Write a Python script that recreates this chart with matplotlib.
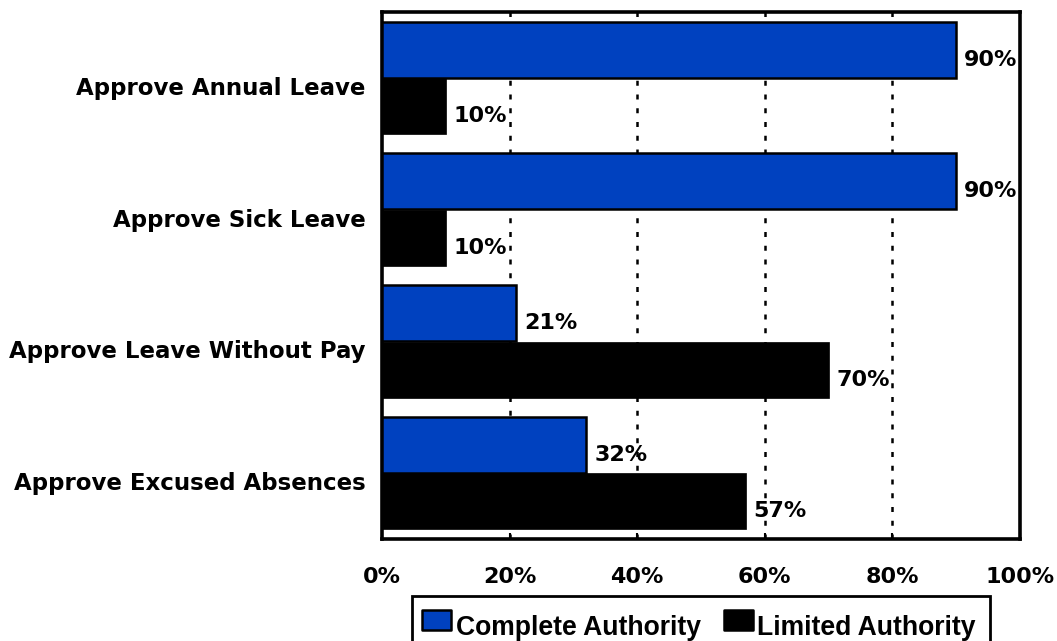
import matplotlib
matplotlib.use("Agg")
import matplotlib.pyplot as plt
import numpy as np
from matplotlib.transforms import ScaledTranslation
from matplotlib.patches import Rectangle
from matplotlib.legend_handler import HandlerPatch

categories = ["Approve Annual Leave", "Approve Sick Leave",
              "Approve Leave Without Pay", "Approve Excused Absences"]
complete_authority = [90, 90, 21, 32]
limited_authority = [10, 10, 70, 57]
series_names = ["Complete Authority", "Limited Authority"]
x_ticks = [0, 20, 40, 60, 80, 100]
x_tick_labels = ["0%", "20%", "40%", "60%", "80%", "100%"]

BLUE = "#0041BF"
BLACK = "#000000"
LABEL_FONT = dict(family="DejaVu Sans", weight="bold")
W, H = 1057, 641

fig = plt.figure(figsize=(W / 100, H / 100), dpi=100)
ax = fig.add_axes([382 / W, 1 - 539 / H, (1020 - 382) / W, (539 - 12) / H])

y = np.arange(len(categories))
h = 0.425
off = 0.215
bars_c = ax.barh(y - off, complete_authority, height=h, color=BLUE,
                 edgecolor=BLACK, linewidth=1.8, zorder=3, label=series_names[0])
bars_l = ax.barh(y + off, limited_authority, height=h, color=BLACK,
                 edgecolor=BLACK, linewidth=0.5, zorder=3, label=series_names[1])

for bars, vals in ((bars_c, complete_authority), (bars_l, limited_authority)):
    for b, v in zip(bars, vals):
        ax.annotate(f"{v}%", xy=(v, b.get_y() + b.get_height() / 2),
                    xytext=(8, -10), textcoords="offset pixels",
                    ha="left", va="center", fontsize=16, zorder=4,
                    annotation_clip=False, **LABEL_FONT)

ax.set_xlim(0, 100)
ax.set_ylim(len(categories) - 0.5, -0.5)

ax.set_xticks(x_ticks)
ax.set_xticklabels(x_tick_labels, fontsize=16, **LABEL_FONT)
ax.set_yticks(y)
ax.set_yticklabels(categories, fontsize=16.5, **LABEL_FONT)
ax.tick_params(axis="x", direction="in", length=4, width=1.5, pad=20.5)
ax.tick_params(axis="y", length=0, pad=12)
shift = ScaledTranslation(0, -0.08, fig.dpi_scale_trans)
for lab in ax.get_yticklabels():
    lab.set_transform(lab.get_transform() + shift)

for xv in x_ticks[1:-1]:
    ax.axvline(xv, color=BLACK, linewidth=1.8, linestyle=(0, (2, 3.5)), zorder=1)

for s in ax.spines.values():
    s.set_linewidth(2.6)
    s.set_color(BLACK)


def raised_box(legend, orig_handle, xdescent, ydescent, width, height, fontsize):
    # legend swatch sits a little above the text centre line
    return Rectangle((-xdescent, -ydescent + 4), width, height)


def swatch_style(legend_handle, orig_handle):
    legend_handle.set_facecolor(orig_handle.get_facecolor())
    legend_handle.set_edgecolor(BLACK)
    legend_handle.set_linewidth(1.8)
    legend_handle.set_joinstyle("round")


handler = HandlerPatch(patch_func=raised_box)
leg = fig.legend(handles=[bars_c.patches[0], bars_l.patches[0]], labels=series_names,
                 loc="center", bbox_to_anchor=(699 / W, 1 - 628 / H),
                 bbox_transform=fig.transFigure, ncol=2, frameon=False,
                 prop=dict(family="Liberation Sans", weight="bold", size=19.1),
                 handlelength=1.1, handleheight=0.76, handletextpad=0.18,
                 columnspacing=0.85, borderpad=0, borderaxespad=0,
                 handler_map={Rectangle: handler})
for lh, oh in zip(leg.legend_handles, [bars_c.patches[0], bars_l.patches[0]]):
    swatch_style(lh, oh)

# legend frame, open at the lower figure edge
fig.add_artist(Rectangle((412 / W, -0.05), (990 - 412) / W, 0.05 + 1 - 596 / H,
                         transform=fig.transFigure, fill=False,
                         edgecolor=BLACK, linewidth=2))

fig.savefig("out.png", dpi=100, facecolor="white")
